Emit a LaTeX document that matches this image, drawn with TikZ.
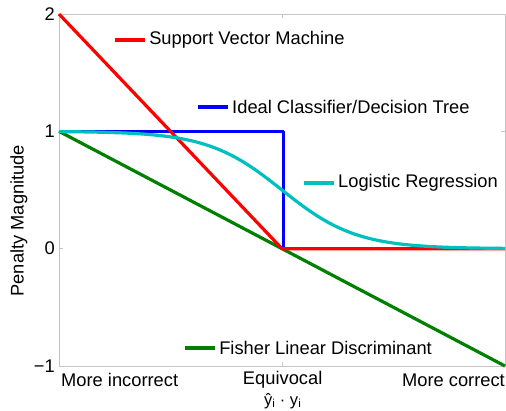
\documentclass[tikz,border=0pt]{standalone}
\usepackage{fontspec}
\setmainfont{Liberation Sans}
\definecolor{svmred}{HTML}{FF0000}
\definecolor{idealblue}{HTML}{0000FF}
\definecolor{logcyan}{HTML}{00BFBF}
\definecolor{fishgreen}{HTML}{008000}
\definecolor{axisgray}{HTML}{C4C4C4}
\begin{document}
\begin{tikzpicture}[x=223pt,y=117.33pt,
  curve/.style={line width=3.2pt,line join=round},
  legline/.style={line width=3.6pt},
  legtext/.style={anchor=west,inner sep=0pt,font=\fontsize{18.3}{20}\selectfont},
  ticklab/.style={inner sep=0pt,font=\fontsize{18.3}{20}\selectfont},
  axisline/.style={axisgray,line width=0.9pt},
  tickmark/.style={axisgray,line width=0.8pt}]
\useasboundingbox (-282pt,-162.33pt) rectangle (224pt,248.67pt);
% axes box
\draw[axisline] (-1,-1) rectangle (1,2);
\foreach \yy in {-1,0,1,2}{
  \draw[tickmark] (-1,\yy) -- ++(4pt,0);
  \draw[tickmark] (1,\yy) -- ++(-4pt,0);
}
\foreach \xx in {-1,0,1}{
  \draw[tickmark] (\xx,-1) -- ++(0,4pt);
  \draw[tickmark] (\xx,2) -- ++(0,-4pt);
}
% curves
\draw[curve,fishgreen] (-1,1) -- (1,-1);
\draw[curve,idealblue] (-1,1) -- (0.005,1) -- (0.005,0);
\draw[curve,svmred] (-1,2) -- (0,0) -- (1,0);
\draw[curve,logcyan] plot[domain=-1:1,samples=120,smooth] (\x,{1/(1+exp(6*\x))});
% legend entries
\coordinate (l1a) at (-0.749,1.778); \coordinate (l1b) at (-0.614,1.778);
\draw[legline,svmred] (l1a) -- (l1b);
\node[legtext] (t1) at (-0.596,1.778) {Support Vector Machine};
\coordinate (l2a) at (-0.377,1.207); \coordinate (l2b) at (-0.242,1.207);
\draw[legline,idealblue] (l2a) -- (l2b);
\node[legtext] (t2) at (-0.224,1.207) {Ideal Classifier/Decision Tree};
\coordinate (l3a) at (0.099,0.559); \coordinate (l3b) at (0.233,0.559);
\draw[legline,logcyan] (l3a) -- (l3b);
\node[legtext] (t3) at (0.251,0.559) {Logistic Regression};
\coordinate (l4a) at (-0.435,-0.846); \coordinate (l4b) at (-0.300,-0.846);
\draw[legline,fishgreen] (l4a) -- (l4b);
\node[legtext] (t4) at (-0.282,-0.846) {Fisher Linear Discriminant};
% tick labels
\node[ticklab,anchor=east] (y2) at (-227pt,2) {2};
\node[ticklab,anchor=east] (y1) at (-227pt,1) {1};
\node[ticklab,anchor=east] (y0) at (-227pt,0) {0};
\node[ticklab,anchor=east] (ym1) at (-227pt,-1) {−1};
\node[ticklab,anchor=west] (xl) at (-221pt,-131.33pt) {More incorrect};
\node[ticklab] (xc) at (0.003,-131.33pt) {Equivocal};
\node[ticklab,anchor=east] (xr) at (1,-131.33pt) {More correct};
\node[inner sep=0pt,font=\fontsize{16.5}{16}\selectfont] (xlab) at (0.003,-152.33pt) {ŷ\textsubscript{i} · y\textsubscript{i}};
\node[ticklab,rotate=90] (ylab) at (-263pt,28pt) {Penalty Magnitude};
\end{tikzpicture}
\end{document}
